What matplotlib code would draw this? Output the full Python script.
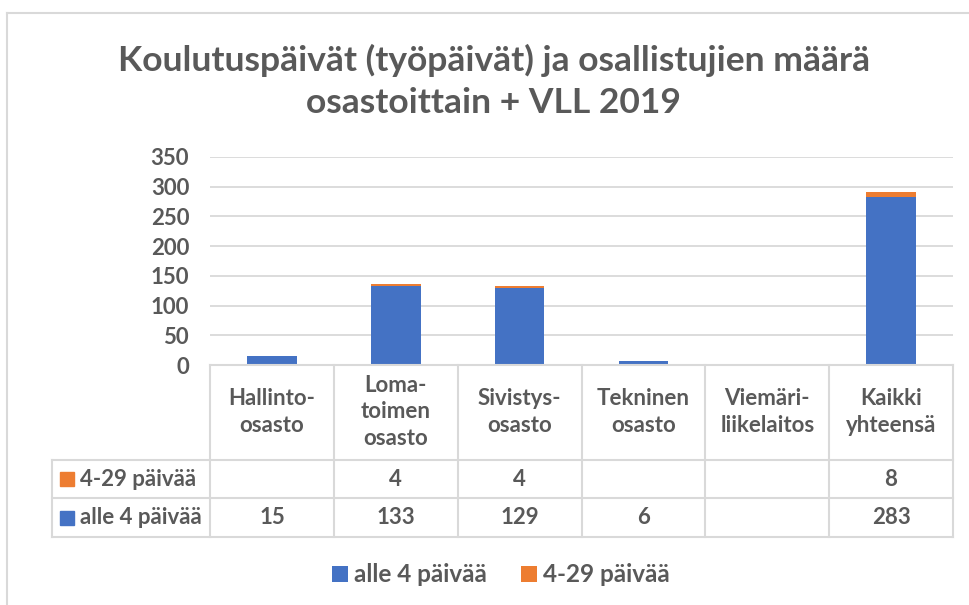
import numpy as np
import matplotlib
matplotlib.use("Agg")
import matplotlib.pyplot as plt
from matplotlib.lines import Line2D
from matplotlib.patches import Rectangle
import matplotlib.transforms as mtransforms

categories = ["Hallinto-\nosasto", "Loma-\ntoimen\nosasto", "Sivistys-\nosasto",
              "Tekninen\nosasto", "Viemäri-\nliikelaitos", "Kaikki\nyhteensä"]
series_names = ["alle 4 päivää", "4-29 päivää"]
alle4 = [15, 133, 129, 6, None, 283]
paiva429 = [None, 4, 4, None, None, 8]
title = "Koulutuspäivät (työpäivät) ja osallistujien määrä\nosastoittain + VLL 2019"
yticks = [0, 50, 100, 150, 200, 250, 300, 350]

BLUE = "#4472C4"
ORANGE = "#ED7D31"
TXT = "#595959"
GRID = "#D9D9D9"

plt.rcParams['font.family'] = ['Lato', 'DejaVu Sans']
plt.rcParams['font.weight'] = 'bold'

W, H = 969, 605
fig = plt.figure(figsize=(W / 100, H / 100), dpi=100)

def fx(px):
    return px / W

def fy(py):
    return 1 - py / H

FS = 16

# chart border (left and top visible)
fig.add_artist(Line2D([fx(7), fx(7)], [fy(13), 0], color=GRID, lw=1.5, transform=fig.transFigure))
fig.add_artist(Line2D([fx(7), 1], [fy(13), fy(13)], color=GRID, lw=1.5, transform=fig.transFigure))

left, right, top, bottom = 210, 953, 157, 365
ax = fig.add_axes([fx(left), fy(bottom), (right - left) / W, (bottom - top) / H])

x = np.arange(len(categories))
a = np.array([np.nan if v is None else v for v in alle4], dtype=float)
b = np.array([np.nan if v is None else v for v in paiva429], dtype=float)
bars_a = ax.bar(x, np.nan_to_num(a), width=0.4, color=BLUE, label=series_names[0], zorder=3)
bars_b = ax.bar(x, np.nan_to_num(b), width=0.4, bottom=np.nan_to_num(a), color=ORANGE,
                label=series_names[1], zorder=3)

ax.set_xlim(-0.5, len(categories) - 0.5)
ax.set_ylim(0, 350)
ax.set_yticks(yticks)
ax.set_yticklabels([str(t) for t in yticks], fontsize=FS, color=TXT, fontweight='bold')
ax.tick_params(axis='y', length=0, pad=15)
ax.tick_params(axis='x', length=0, labelbottom=False)
ax.yaxis.grid(True, color=GRID, lw=1.3, zorder=0)
for s in ax.spines.values():
    s.set_visible(False)
ax.set_facecolor('none')

# title
fig.text(fx(494), fy(81), title, ha='center', va='center', fontsize=25.5,
         fontweight='bold', color=TXT, linespacing=1.38)

# data table
blend = mtransforms.blended_transform_factory(ax.transData, fig.transFigure)
row1_y, row2_y, row3_y = 460, 498, 537
lw = 1.5
fig.add_artist(Line2D([fx(left), fx(right)], [fy(bottom), fy(bottom)], color=GRID, lw=lw,
                      transform=fig.transFigure))
for yy in (row1_y, row2_y, row3_y):
    fig.add_artist(Line2D([fx(52), fx(right)], [fy(yy), fy(yy)], color=GRID, lw=lw,
                          transform=fig.transFigure))
fig.add_artist(Line2D([fx(52), fx(52)], [fy(row1_y), fy(row3_y)], color=GRID, lw=lw,
                      transform=fig.transFigure))
for i in range(len(categories) + 1):
    xb = i - 0.5
    fig.add_artist(Line2D([xb, xb], [fy(bottom), fy(row3_y)], color=GRID, lw=lw,
                          transform=blend))

for i, c in enumerate(categories):
    fig.text(i, fy(412), c, transform=blend, ha='center', va='center', fontsize=FS,
             fontweight='bold', color=TXT, linespacing=1.3)
    vb = paiva429[i]
    va_ = alle4[i]
    if vb is not None:
        fig.text(i, fy(479), str(vb), transform=blend, ha='center', va='center',
                 fontsize=FS, fontweight='bold', color=TXT)
    if va_ is not None:
        fig.text(i, fy(518), str(va_), transform=blend, ha='center', va='center',
                 fontsize=FS, fontweight='bold', color=TXT)

# row labels with color keys
for name, col, yc in ((series_names[1], ORANGE, 479), (series_names[0], BLUE, 518)):
    fig.add_artist(Rectangle((fx(60), fy(yc + 7)), 14 / W, 14 / H, color=col,
                             transform=fig.transFigure))
    fig.text(fx(80), fy(yc), name, ha='left', va='center', fontsize=FS,
             fontweight='bold', color=TXT)

# legend
leg = fig.legend(handles=[bars_a, bars_b], labels=series_names, loc='center',
                 bbox_to_anchor=(fx(501), fy(575)), ncol=2, frameon=False,
                 fontsize=17.5, handlelength=0.65, handleheight=0.65, handletextpad=0.25,
                 columnspacing=1.4, borderaxespad=0)
for t in leg.get_texts():
    t.set_color(TXT)
    t.set_fontweight('bold')

fig.savefig("out.png", dpi=100, facecolor='white')
